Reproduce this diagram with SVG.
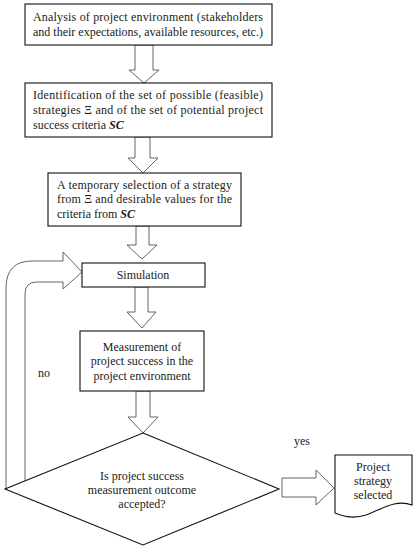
<svg xmlns="http://www.w3.org/2000/svg" width="416" height="550" viewBox="0 0 416 550">
<style>
.box{fill:#fff;stroke:#111;stroke-width:1.1}
.arr{fill:#fff;stroke:#555;stroke-width:0.9}
.t{font-family:"Liberation Serif","Times New Roman",serif;font-size:12px;fill:#222}
.c{text-anchor:middle}
.sc{font-weight:bold;font-style:italic}
</style>
<rect width="416" height="550" fill="#fff"/>
<g id="connectors">
<polygon class="arr" points="135,45 153,45 153,70 159,70 144,83 129,70 135,70"/>
<polygon class="arr" points="135,137 150,137 150,158 158,158 143,173 128,158 135,158"/>
<polygon class="arr" points="136,226 149,226 149,245 157,245 142,259 127,245 136,245"/>
<polygon class="arr" points="135,287 148,287 148,312 156,312 142,328 127,312 135,312"/>
<polygon class="arr" points="136,391 150,391 150,417 158,417 143,433 128,417 136,417"/>
<path class="arr" fill="none" d="M6,489 V288 Q6,261 32,261 H63 V252 L82,272 L63,289 V282 H37 Q25,282 25,294 V481" style="fill:none"/>
<polygon class="arr" points="282,478 316,478 316,470 334,488 316,505 316,497 282,497"/>
<text class="t c" x="44" y="377">no</text>
<text class="t c" x="302" y="445">yes</text>
</g>
<g id="n1">
<rect class="box" x="25" y="4" width="247" height="41"/>
<text class="t" x="33" y="21" textLength="230" lengthAdjust="spacing">Analysis of project environment (stakeholders</text>
<text class="t" x="33" y="36">and their expectations, available resources, etc.)</text>
</g>
<g id="n2">
<rect class="box" x="25" y="83" width="247" height="54"/>
<text class="t" x="33" y="99" textLength="230" lengthAdjust="spacing">Identification of the set of possible (feasible)</text>
<text class="t" x="33" y="114" textLength="230" lengthAdjust="spacing">strategies Ξ and of the set of potential project</text>
<text class="t" x="33" y="129">success criteria <tspan class="sc">SC</tspan></text>
</g>
<g id="n3">
<rect class="box" x="48" y="173" width="193" height="53"/>
<text class="t" x="57" y="189" textLength="175" lengthAdjust="spacing">A temporary selection of a strategy</text>
<text class="t" x="57" y="203" textLength="175" lengthAdjust="spacing">from Ξ and desirable values for the</text>
<text class="t" x="57" y="218">criteria from <tspan class="sc">SC</tspan></text>
</g>
<g id="n4">
<rect class="box" x="82" y="263" width="123" height="24"/>
<text class="t c" x="143" y="279">Simulation</text>
</g>
<g id="n5">
<rect class="box" x="80" y="331" width="124" height="60"/>
<text class="t c" x="142" y="351">Measurement of</text>
<text class="t c" x="142" y="365">project success in the</text>
<text class="t c" x="142" y="380">project environment</text>
</g>
<g id="n6">
<polygon class="box" points="143,433 279,489 143,545 5,489"/>
<text class="t c" x="142" y="480">Is project success</text>
<text class="t c" x="142" y="494">measurement outcome</text>
<text class="t c" x="142" y="508">accepted?</text>
</g>
<g id="n7">
<path class="box" d="M335,455 H412 V505 C396,499 382,509 366,515 C354,519 344,517 335,513 Z"/>
<text class="t c" x="373" y="471">Project</text>
<text class="t c" x="373" y="485">strategy</text>
<text class="t c" x="373" y="499">selected</text>
</g>
</svg>
